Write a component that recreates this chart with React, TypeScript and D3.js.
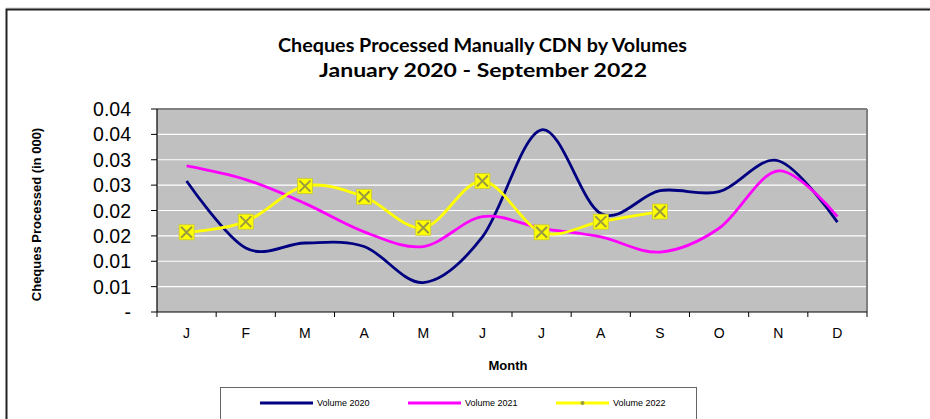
import React from "react";
import * as d3 from "d3";

const months = ["J", "F", "M", "A", "M", "J", "J", "A", "S", "O", "N", "D"];
const vol2020 = [0.0258, 0.0126, 0.0136, 0.0129, 0.0058, 0.0148, 0.0359, 0.0194, 0.0239, 0.0237, 0.0298, 0.0177];
const vol2021 = [0.0288, 0.0261, 0.0214, 0.0158, 0.0129, 0.0188, 0.0165, 0.0148, 0.0118, 0.0165, 0.0278, 0.0188];
const vol2022 = [0.0157, 0.0178, 0.0248, 0.0227, 0.0166, 0.0258, 0.0157, 0.0178, 0.0198];
const yTicks = [0, 0.005, 0.01, 0.015, 0.02, 0.025, 0.03, 0.035, 0.04];
const yTickLabels = ["-", "0.01", "0.01", "0.02", "0.02", "0.03", "0.03", "0.04", "0.04"];
const seriesNames = ["Volume 2020", "Volume 2021", "Volume 2022"];
const seriesColors = ["#000080", "#FF00FF", "#FFFF00"];

export default function App() {
  const W = 930, H = 419;
  const left = 157, right = 867, top = 109, bottom = 312;
  const x = d3.scaleBand<number>().domain(months.map((_, i) => i)).range([left, right]);
  const y = d3.scaleLinear().domain([0, 0.04]).range([bottom, top]);
  const cx = (i: number) => (x(i) as number) + x.bandwidth() / 2;
  const line = d3
    .line<number>()
    .x((_, i) => cx(i))
    .y((d) => y(d))
    .curve(d3.curveCatmullRom.alpha(0));
  const font = "'Liberation Sans', Arial, sans-serif";
  const tfont = "Lato, 'Open Sans', sans-serif";
  const ms = 7.5;
  return (
    <svg width={W} height={H} style={{ position: "absolute", left: 0, top: 0 }}>
      <rect x={0} y={0} width={W} height={H} fill="#fff" />
      <line x1={6} y1={8} x2={W} y2={8} stroke="#ccc" strokeWidth={1} />
      <path d={`M6.5,${H} V9.5 H${W}`} fill="none" stroke="#222" strokeWidth={2} />
      <text x={482.5} y={52} textAnchor="middle" fontFamily={tfont} fontWeight="bold" fontSize={18.5} fill="#000" textLength={409} lengthAdjust="spacingAndGlyphs">
        Cheques Processed Manually CDN by Volumes
      </text>
      <text x={483} y={77} textAnchor="middle" fontFamily={tfont} fontWeight="bold" fontSize={18.5} fill="#000" textLength={328} lengthAdjust="spacingAndGlyphs">
        January 2020 - September 2022
      </text>
      <rect x={left} y={top} width={right - left} height={bottom - top} fill="#C0C0C0" />
      {yTicks.slice(1, -1).map((t) => (
        <line key={t} x1={left} x2={right} y1={y(t)} y2={y(t)} stroke="#fff" strokeWidth={1.2} />
      ))}
      <line x1={left} x2={right} y1={top} y2={top} stroke="#808080" strokeWidth={2} />
      <line x1={right} x2={right} y1={top} y2={bottom} stroke="#808080" strokeWidth={2} />
      <line x1={left} x2={left} y1={top} y2={bottom} stroke="#000" strokeWidth={1.2} />
      <line x1={left} x2={right} y1={bottom} y2={bottom} stroke="#000" strokeWidth={1.2} />
      {yTicks.map((t, i) => (
        <g key={"yt" + i}>
          <line x1={left - 6} x2={left} y1={y(t)} y2={y(t)} stroke="#000" />
          <text x={131} y={y(t)} dy="0.36em" textAnchor="end" fontFamily={font} fontSize={19.5} fill="#000">
            {yTickLabels[i]}
          </text>
        </g>
      ))}
      {months.map((_, i) => (
        <line key={"xt" + i} x1={x(i) as number} x2={x(i) as number} y1={bottom} y2={bottom + 5} stroke="#000" />
      ))}
      <line x1={right} x2={right} y1={bottom} y2={bottom + 5} stroke="#000" />
      {months.map((m, i) => (
        <text key={"xl" + i} x={cx(i)} y={338} textAnchor="middle" fontFamily={font} fontSize={14} fill="#000">
          {m}
        </text>
      ))}
      <text x={508} y={370} textAnchor="middle" fontFamily={font} fontWeight="bold" fontSize={13} fill="#000">
        Month
      </text>
      <text
        transform={`translate(41,${(top + bottom) / 2 + 4}) rotate(-90)`}
        textAnchor="middle"
        fontFamily={font}
        fontWeight="bold"
        fontSize={13}
        fill="#000"
      >
        Cheques Processed (in 000)
      </text>
      <path d={line(vol2020) || ""} fill="none" stroke={seriesColors[0]} strokeWidth={2.8} />
      <path d={line(vol2021) || ""} fill="none" stroke={seriesColors[1]} strokeWidth={2.8} />
      <path d={line(vol2022) || ""} fill="none" stroke={seriesColors[2]} strokeWidth={2.8} />
      {vol2022.map((v, i) => (
        <g key={"mk" + i}>
          <rect x={cx(i) - ms} y={y(v) - ms} width={2 * ms} height={2 * ms} fill="#FFFF00" stroke="#c8c832" strokeWidth={0.8} />
          <path
            d={`M${cx(i) - ms + 2},${y(v) - ms + 2} L${cx(i) + ms - 2},${y(v) + ms - 2} M${cx(i) + ms - 2},${y(v) - ms + 2} L${cx(i) - ms + 2},${y(v) + ms - 2}`}
            stroke="#9a9a40"
            strokeWidth={2}
          />
        </g>
      ))}
      <rect x={220.5} y={387.5} width={476} height={40} fill="#fff" stroke="#666" strokeWidth={1} />
      {seriesNames.map((n, i) => {
        const lx = [260, 408, 556][i];
        return (
          <g key={"lg" + i}>
            <line x1={lx} x2={lx + 53} y1={403} y2={403} stroke={seriesColors[i]} strokeWidth={2.8} />
            {i === 2 && <circle cx={lx + 26.5} cy={403} r={2} fill="#9a9a40" />}
            <text x={lx + 57} y={403} dy="0.35em" fontFamily={font} fontSize={9} fill="#000">
              {n}
            </text>
          </g>
        );
      })}
    </svg>
  );
}
